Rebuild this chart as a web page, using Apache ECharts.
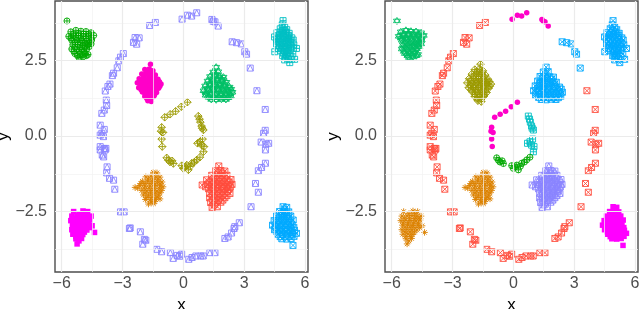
<!DOCTYPE html>
<html><head><meta charset="utf-8">
<script src="https://cdn.jsdelivr.net/npm/echarts@6/dist/echarts.min.js"></script>
<style>html,body{margin:0;padding:0;background:#fff}#main{width:640px;height:309px}</style>
</head><body><div id="main"></div>
<script>
// ---- tick values ----
const xMajor = [-6, -3, 0, 3, 6];
const xMinor = [-4.5, -1.5, 1.5, 4.5];
const yMajor = [-2.5, 0, 2.5];
const yMinor = [-3.75, -1.25, 1.25, 3.75];

// ---- point groups (same points in both panels, different labels) ----
const ringTop = [[-0.06,3.87],[0.2,4.0],[0.41,3.97],[0.66,4.08],[1.41,3.86],[1.48,3.8],[1.56,3.78],[1.72,3.64]];
const ringUpperRight = [[2.41,3.12],[2.63,3.09],[2.86,3.05],[3.03,2.79],[3.12,2.71],[3.3,2.25]];
const ringRest = [[-1.66,3.66],[-1.38,3.76],
 [-2.38,3.26],[-2.18,3.25],[-2.46,3.1],[-2.3,3.04],
 [-2.96,2.73],[-3.1,2.61],[-3.18,2.49],[-3.26,2.26],[-3.44,2.08],[-3.5,2.0],
 [-3.62,1.72],[-3.72,1.64],[-3.85,1.49],
 [-3.8,1.19],[-3.78,1.01],[-3.9,0.86],[-4.02,0.75],
 [-4.1,0.36],[-3.9,0.22],[-4.02,0.09],[-4.1,0.03],[-3.94,-0.02],
 [-4.1,-0.35],[-3.9,-0.41],[-3.82,-0.41],[-4.0,-0.63],[-4.1,-0.46],[-3.86,-0.46],[-3.93,-0.69],
 [-3.76,-1.02],[-3.78,-1.22],[-3.64,-1.4],[-3.44,-1.46],[-3.38,-1.76],
 [-3.1,-2.51],[-2.92,-2.51],
 [-2.66,-3.06],[-2.62,-3.04],
 [-2.12,-3.17],[-1.92,-3.42],[-2.0,-3.58],[-1.85,-3.45],
 [-1.31,-3.75],[-1.07,-3.83],
 [-0.64,-3.86],[-0.5,-4.05],[-0.3,-3.95],[-0.18,-3.98],[-0.08,-3.91],
 [0.27,-4.08],[0.43,-4.02],[0.62,-3.97],[0.86,-3.97],[0.98,-3.97],
 [1.31,-3.86],[1.56,-3.86],
 [2.05,-3.39],[2.21,-3.34],[2.38,-3.21],[2.5,-3.06],[2.54,-3.0],[2.76,-2.87],
 [3.34,-2.34],
 [3.56,-1.57],[3.7,-1.86],
 [3.7,-1.15],[3.86,-1.04],[4.05,-0.9],
 [4.05,-0.46],
 [4.04,0.19],[3.96,0.09],[3.84,-0.2],[4.07,-0.27],[4.21,-0.24],
 [4.04,0.88],
 [3.63,1.5]];
const innerArc = [[0.2,1.12],[-0.1,0.97],[-0.38,0.82],[-0.65,0.72],[-0.92,0.62],[-1.07,0.29],[-1.1,0.16],[-1.0,0.12],[-1.07,-0.1],[-1.04,-0.35]];
const innerRight = [[0.74,0.66],[0.8,0.56],[0.84,0.46],[0.9,0.33],[0.99,0.2],[0.93,0.26],[0.95,-0.1],[0.82,-0.19],[0.7,-0.24],[0.9,-0.3],[1.02,-0.35],[0.99,-0.52]];
const innerBottom = [[-0.82,-0.72],[-0.74,-0.8],[-0.66,-0.86],[-0.55,-0.82],[-0.49,-0.91],[-0.08,-0.98],[0.0,-1.07],[0.1,-1.02],[0.17,-0.96],[0.25,-1.12],[0.35,-1.0],[0.41,-0.9],[0.55,-0.86],[0.66,-0.79],[0.82,-0.7]];
const clusterTL = [[-5.74,3.81],
 [-5.55,3.45],[-5.3,3.5],[-5.05,3.47],[-4.8,3.46],[-4.55,3.42],
 [-5.65,3.3],[-5.42,3.32],[-5.18,3.33],[-4.93,3.3],[-4.68,3.31],[-4.42,3.33],
 [-5.5,3.17],[-5.25,3.18],[-5.0,3.16],[-4.76,3.15],[-4.52,3.18],
 [-5.45,3.02],[-5.2,3.03],[-4.96,3.0],[-4.72,3.02],[-4.55,3.05],
 [-5.5,2.88],[-5.25,2.87],[-5.0,2.86],[-4.76,2.89],
 [-5.35,2.73],[-5.1,2.72],[-4.85,2.74],[-4.7,2.7],
 [-5.15,2.6],[-4.95,2.62],
 [-5.42,3.38],[-5.17,3.4],[-4.92,3.38],[-4.67,3.38],
 [-5.55,3.24],[-5.3,3.25],[-5.05,3.24],[-4.8,3.23],[-4.55,3.25],
 [-5.33,3.1],[-5.08,3.09],[-4.84,3.08],[-4.62,3.1],
 [-5.35,2.95],[-5.1,2.94],[-4.86,2.95],[-4.64,2.96],
 [-5.4,2.8],[-5.15,2.8],[-4.9,2.8],
 [-5.22,2.66],[-4.98,2.68],[-4.78,2.66]];
const clusterTR = [[4.92,3.82],[4.88,3.68],[5.0,3.6],[4.78,3.55],
 [4.62,3.42],[4.85,3.43],[5.05,3.45],[5.22,3.4],
 [4.5,3.28],[4.72,3.28],[4.95,3.3],[5.15,3.27],[5.35,3.25],
 [4.68,3.13],[4.9,3.12],[5.1,3.14],[5.3,3.1],
 [4.51,2.79],[4.75,2.98],[4.95,2.97],[5.15,2.98],[5.35,2.95],[5.58,2.9],
 [4.8,2.82],[5.0,2.81],[5.2,2.83],
 [4.9,2.66],[5.1,2.67],[5.3,2.64],
 [5.0,2.52],[5.49,2.54],[5.25,2.43],
 [4.9,3.5],[5.1,3.52],[4.75,3.35],[4.95,3.37],[5.2,3.33],[4.6,3.2],[4.8,3.2],[5.0,3.21],[5.2,3.2],[5.42,3.18],
 [4.6,3.05],[4.82,3.05],[5.02,3.06],[5.22,3.04],[5.45,3.02],[4.7,2.9],[4.9,2.89],[5.1,2.9],[5.3,2.88],
 [4.95,2.74],[5.15,2.75],[5.4,2.72],[5.05,2.6],[5.2,2.55]];
const clusterML = [[-1.62,2.38],
 [-1.9,2.2],[-1.68,2.22],[-1.5,2.16],
 [-2.05,2.05],[-1.82,2.06],[-1.58,2.04],[-1.38,2.02],
 [-2.18,1.9],[-1.95,1.91],[-1.72,1.9],[-1.48,1.89],[-1.25,1.88],
 [-2.27,1.76],[-2.04,1.75],[-1.8,1.77],[-1.56,1.75],[-1.32,1.74],[-1.1,1.72],
 [-2.2,1.6],[-1.96,1.61],[-1.72,1.6],[-1.48,1.62],[-1.22,1.58],
 [-2.02,1.46],[-1.78,1.45],[-1.55,1.46],[-1.32,1.44],
 [-1.9,1.31],[-1.68,1.3],[-1.46,1.31],
 [-1.75,1.17],[-1.58,1.14],
 [-1.8,2.13],[-1.6,2.1],[-1.95,1.98],[-1.7,1.98],[-1.45,1.96],[-2.08,1.83],[-1.84,1.83],[-1.6,1.82],[-1.36,1.81],[-1.18,1.8],
 [-2.12,1.68],[-1.88,1.68],[-1.62,1.68],[-1.38,1.67],[-1.16,1.65],[-2.08,1.53],[-1.85,1.53],[-1.62,1.53],[-1.4,1.52],
 [-1.88,1.38],[-1.65,1.38],[-1.42,1.37],[-1.8,1.24],[-1.58,1.23]];
const clusterMR = [[1.62,2.28],
 [1.48,2.12],[1.72,2.13],
 [1.32,1.97],[1.56,1.98],[1.8,1.96],[1.98,1.95],
 [1.2,1.82],[1.44,1.81],[1.68,1.83],[1.92,1.8],[2.12,1.78],
 [1.08,1.66],[1.32,1.67],[1.56,1.65],[1.8,1.66],[2.04,1.64],[2.28,1.62],
 [1.0,1.5],[1.25,1.51],[1.5,1.5],[1.74,1.52],[1.98,1.49],[2.22,1.48],[2.42,1.45],
 [1.1,1.35],[1.35,1.36],[1.6,1.34],[1.85,1.35],[2.1,1.33],[2.34,1.32],
 [1.38,1.21],[1.62,1.2],[1.88,1.22],[2.1,1.21],
 [1.6,2.05],[1.42,1.9],[1.68,1.9],[1.9,1.88],[1.3,1.74],[1.55,1.74],[1.8,1.73],[2.04,1.72],
 [1.2,1.58],[1.44,1.58],[1.68,1.58],[1.92,1.57],[2.16,1.56],[2.36,1.55],
 [1.12,1.43],[1.38,1.43],[1.62,1.42],[1.86,1.42],[2.1,1.41],[2.3,1.4],
 [1.25,1.28],[1.5,1.27],[1.75,1.28],[2.0,1.27],[2.22,1.27]];
const clusterLL = [[-1.48,-1.2],[-1.3,-1.22],
 [-1.85,-1.35],[-1.6,-1.33],[-1.36,-1.35],[-1.15,-1.36],
 [-2.02,-1.5],[-1.77,-1.49],[-1.52,-1.5],[-1.27,-1.51],[-1.05,-1.52],
 [-2.38,-1.7],[-2.15,-1.64],[-1.9,-1.65],[-1.65,-1.66],[-1.4,-1.64],[-1.15,-1.65],[-1.0,-1.68],
 [-2.05,-1.8],[-1.8,-1.81],[-1.55,-1.8],[-1.3,-1.82],[-1.07,-1.8],
 [-1.97,-1.95],[-1.72,-1.96],[-1.47,-1.95],[-1.22,-1.96],
 [-1.87,-2.1],[-1.62,-2.11],[-1.37,-2.1],[-1.15,-2.08],
 [-1.72,-2.25],[-1.47,-2.24],
 [-1.72,-1.42],[-1.48,-1.42],[-1.25,-1.43],[-2.1,-1.57],[-1.88,-1.57],[-1.64,-1.57],[-1.4,-1.58],[-1.16,-1.58],
 [-2.25,-1.72],[-1.92,-1.73],[-1.68,-1.73],[-1.42,-1.73],[-1.18,-1.73],[-1.88,-1.88],[-1.62,-1.88],[-1.38,-1.88],[-1.15,-1.88],
 [-1.8,-2.03],[-1.55,-2.03],[-1.3,-2.02],[-1.6,-2.18],[-1.4,-2.17]];
const clusterLR = [[1.75,-0.99],
 [1.6,-1.15],[1.85,-1.14],[2.05,-1.16],
 [1.4,-1.3],[1.65,-1.29],[1.9,-1.31],[2.15,-1.3],
 [1.15,-1.45],[1.4,-1.46],[1.65,-1.44],[1.9,-1.45],[2.15,-1.46],[2.35,-1.44],
 [0.93,-1.62],[1.2,-1.6],[1.45,-1.61],[1.7,-1.6],[1.95,-1.59],[2.2,-1.61],[2.4,-1.6],
 [1.25,-1.75],[1.5,-1.76],[1.75,-1.75],[2.0,-1.74],[2.25,-1.76],
 [1.3,-1.9],[1.55,-1.91],[1.8,-1.9],[2.05,-1.89],[2.3,-1.9],
 [1.3,-2.05],[1.55,-2.06],[1.8,-2.05],[2.05,-2.04],
 [1.35,-2.2],[1.6,-2.21],[1.85,-2.19],
 [1.42,-2.36],[1.68,-2.34],
 [1.72,-1.22],[1.95,-1.23],[1.52,-1.37],[1.78,-1.37],[2.02,-1.38],[1.28,-1.53],[1.52,-1.53],[1.78,-1.52],[2.02,-1.53],[2.26,-1.53],
 [1.1,-1.68],[1.38,-1.68],[1.62,-1.68],[1.88,-1.67],[2.12,-1.68],[2.32,-1.68],[1.42,-1.83],[1.68,-1.83],[1.92,-1.82],[2.18,-1.83],
 [1.42,-1.98],[1.68,-1.98],[1.92,-1.97],[2.15,-1.97],[1.45,-2.13],[1.72,-2.13],[1.95,-2.12],[1.52,-2.28]];
const clusterBL = [[-5.41,-2.5],[-4.95,-2.48],[-4.72,-2.5],
 [-5.5,-2.65],[-5.25,-2.64],[-5.0,-2.63],[-4.77,-2.66],[-4.55,-2.65],
 [-5.55,-2.8],[-5.3,-2.79],[-5.05,-2.8],[-4.8,-2.81],[-4.6,-2.78],
 [-5.47,-2.95],[-5.22,-2.94],[-4.97,-2.96],[-4.72,-2.95],[-4.5,-2.97],
 [-5.5,-3.1],[-5.25,-3.09],[-5.0,-3.1],[-4.76,-3.11],
 [-4.38,-3.19],
 [-5.45,-3.25],[-5.2,-3.24],[-4.96,-3.26],
 [-5.3,-3.4],[-5.02,-3.39],
 [-5.24,-3.57],
 [-5.15,-2.57],[-4.85,-2.57],[-5.38,-2.72],[-5.12,-2.72],[-4.88,-2.73],[-4.66,-2.72],[-5.42,-2.87],[-5.17,-2.87],[-4.92,-2.88],[-4.68,-2.88],
 [-5.35,-3.02],[-5.1,-3.02],[-4.86,-3.03],[-4.62,-3.03],[-5.35,-3.17],[-5.1,-3.17],[-4.88,-3.18],[-5.3,-3.32],[-5.08,-3.32],[-5.15,-3.47]];
const clusterBR = [[4.92,-2.34],[5.1,-2.36],
 [4.75,-2.5],[4.98,-2.49],[5.2,-2.51],
 [4.6,-2.65],[4.85,-2.64],[5.08,-2.66],[5.3,-2.65],
 [4.48,-2.8],[4.72,-2.79],[4.96,-2.8],[5.2,-2.81],[5.42,-2.78],
 [4.4,-2.95],[4.64,-2.94],[4.88,-2.96],[5.12,-2.95],[5.36,-2.94],
 [4.5,-3.1],[4.74,-3.11],[4.98,-3.09],[5.22,-3.1],[5.48,-3.12],
 [4.66,-3.25],[4.9,-3.26],[5.14,-3.24],[5.38,-3.25],[5.58,-3.22],
 [4.86,-3.4],[5.1,-3.41],[5.32,-3.39],
 [5.41,-3.62],
 [5.0,-2.42],[4.86,-2.57],[5.1,-2.58],[4.72,-2.72],[4.96,-2.72],[5.2,-2.73],[4.58,-2.87],[4.82,-2.87],[5.06,-2.88],[5.3,-2.87],
 [4.55,-3.02],[4.8,-3.02],[5.04,-3.03],[5.28,-3.02],[5.45,-3.03],[4.62,-3.17],[4.86,-3.18],[5.1,-3.17],[5.35,-3.18],
 [4.78,-3.33],[5.02,-3.33],[5.26,-3.32],[5.46,-3.32]];

// ---- labels per panel ----
const groupNames = ['ringTop','ringUpperRight','ringRest','innerArc','innerRight','innerBottom','clusterTL','clusterTR','clusterML','clusterMR','clusterLL','clusterLR','clusterBL','clusterBR'];
const groupData = [ringTop, ringUpperRight, ringRest, innerArc, innerRight, innerBottom, clusterTL, clusterTR, clusterML, clusterMR, clusterLL, clusterLR, clusterBL, clusterBR];
const leftLabels  = ['lavender','lavender','lavender','olive','olive','olive','green','cyan','pinkC','teal','orange','red','magS','blue'];
const rightLabels = ['pinkC','blue','red','pinkC','cyan','green','teal','blue','olive','blue','orange','lavender','orange','magS'];

// ---- marker styles ----
const P = {
  sqTri: 'path://M0,0L10,0L10,10L0,10ZM0,10L5,0L10,10',
  diaPlus: 'path://M5,0L10,5L5,10L0,5ZM5,0L5,10M0,5L10,5',
  cirPlus: 'path://M0,5A5,5,0,1,1,10,5A5,5,0,1,1,0,5ZM5,0L5,10M0,5L10,5',
  sqPlus: 'path://M0,0L10,0L10,10L0,10ZM5,0L5,10M0,5L10,5',
  sqCross: 'path://M0,0L10,0L10,10L0,10ZM0,0L10,10M10,0L0,10',
  star: 'path://M5,0L10,7.5L0,7.5ZM5,10L0,2.5L10,2.5Z',
  aster: 'path://M5,0L5,10M0,5L10,5M1.5,1.5L8.5,8.5M8.5,1.5L1.5,8.5'
};
const classes = {
  lavender: {c:'#8A85FF', s:P.sqTri, size:6},
  olive:    {c:'#9C9A00', s:P.diaPlus, size:7.5},
  green:    {c:'#00A800', s:P.cirPlus, size:6},
  cyan:     {c:'#00BFC4', s:P.sqPlus, size:6},
  pinkC:    {c:'#FF00C8', s:'circle', size:5.5, fill:true},
  teal:     {c:'#00C065', s:P.star, size:7},
  orange:   {c:'#DB8100', s:P.aster, size:6.5},
  red:      {c:'#FF4D3D', s:P.sqCross, size:6},
  magS:     {c:'#FF00FF', s:'rect', size:5.5, fill:true},
  blue:     {c:'#00A9FF', s:P.sqCross, size:6}
};

const FONT = 'Liberation Sans, Arial, sans-serif';
const minus = v => (v < 0 ? '\u2212' : '') + Math.abs(v);
function gridLines(idx) {
  const d = [];
  xMinor.forEach(v => d.push({xAxis: v, lineStyle: {color:'#F2F2F2', width:0.7, type:'solid'}}));
  yMinor.forEach(v => d.push({yAxis: v, lineStyle: {color:'#F2F2F2', width:0.7, type:'solid'}}));
  xMajor.forEach(v => d.push({xAxis: v, lineStyle: {color:'#EBEBEB', width:1.2, type:'solid'}}));
  yMajor.forEach(v => d.push({yAxis: v, lineStyle: {color:'#EBEBEB', width:1.2, type:'solid'}}));
  return {type:'scatter', xAxisIndex: idx, yAxisIndex: idx, data: [], z: 1, silent: true,
    markLine: {silent: true, symbol: ['none','none'], label: {show:false}, animation:false, data: d}};
}
const series = [gridLines(0), gridLines(1)];
[leftLabels, rightLabels].forEach((labels, idx) => {
  groupData.forEach((pts, g) => {
    const k = classes[labels[g]];
    series.push({
      type: 'scatter', name: groupNames[g], xAxisIndex: idx, yAxisIndex: idx, z: 3,
      data: pts, symbol: k.s, symbolSize: k.size,
      itemStyle: k.fill ? {color: k.c, opacity: 1} : {color: 'rgba(0,0,0,0)', borderColor: k.c, borderWidth: 0.9, opacity: 1},
      emphasis: {disabled: true}, silent: true
    });
  });
});

function xAxisDef(idx) {
  return {type:'value', gridIndex: idx, min: -6.33, max: 6.15,
    name: 'x', nameLocation: 'middle', nameGap: 21,
    nameTextStyle: {fontFamily: FONT, fontSize: 17, color: '#000'},
    axisLine: {show: false},
    axisTick: {show: true, customValues: xMajor, length: 4, lineStyle: {color: '#333', width: 1}},
    axisLabel: {customValues: xMajor, formatter: minus, margin: 4, color: '#4D4D4D', fontFamily: FONT, fontSize: 16},
    splitLine: {show: false}};
}
function yAxisDef(idx) {
  return {type:'value', gridIndex: idx, min: -4.5, max: 4.47,
    name: 'y', nameLocation: 'middle', nameGap: 42, nameRotate: 90,
    nameTextStyle: {fontFamily: FONT, fontSize: 17, color: '#000'},
    axisLine: {show: false},
    axisTick: {show: true, customValues: yMajor, length: 4, lineStyle: {color: '#333', width: 1}},
    axisLabel: {customValues: yMajor, formatter: v => (v < 0 ? '\u2212' : '') + Math.abs(v).toFixed(1), margin: 8, color: '#4D4D4D', fontFamily: FONT, fontSize: 16},
    splitLine: {show: false}};
}

const chart = echarts.init(document.getElementById('main'), null, {renderer: 'canvas'});
chart.setOption({
  animation: false,
  backgroundColor: '#fff',
  grid: [
    {left: 55, top: 1, width: 253, height: 271, outerBoundsMode: 'none', containLabel: false, show: true, backgroundColor: '#fff', borderColor: '#4D4D4D', borderWidth: 1.4},
    {left: 385, top: 1, width: 253, height: 271, outerBoundsMode: 'none', containLabel: false, show: true, backgroundColor: '#fff', borderColor: '#4D4D4D', borderWidth: 1.4}
  ],
  xAxis: [xAxisDef(0), xAxisDef(1)],
  yAxis: [yAxisDef(0), yAxisDef(1)],
  series: series
});
</script></body></html>
